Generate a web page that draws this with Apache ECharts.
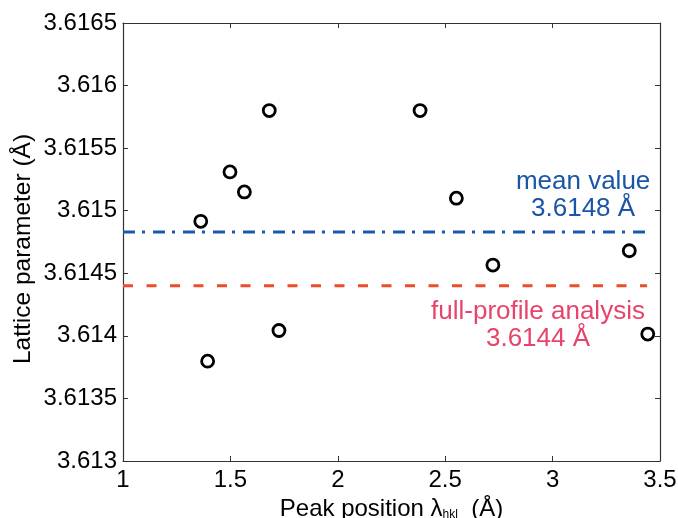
<!DOCTYPE html>
<html>
<head>
<meta charset="utf-8">
<script src="https://cdn.jsdelivr.net/npm/echarts@6/dist/echarts.min.js"></script>
<style>html,body{margin:0;padding:0;background:#fff}#c{width:678px;height:518px}</style>
</head>
<body>
<div id="c"></div>
<script>
const peakPos = [1.362, 1.394, 1.498, 1.565, 1.681, 1.726, 2.383, 2.552, 2.722, 3.357, 3.443];
const latticeParam = [3.614915, 3.613798, 3.61531, 3.61515, 3.6158, 3.614043, 3.6158, 3.6151, 3.614566, 3.61468, 3.614014];
const meanValue = 3.61483;
const fullProfile = 3.6144;
const refLineX = [1, 3.44];
const xTicks = [1, 1.5, 2, 2.5, 3, 3.5];
const yTicks = [3.613, 3.6135, 3.614, 3.6145, 3.615, 3.6155, 3.616, 3.6165];
const meanLabelPos = [3.142, 3.615126];
const fullLabelPos = [2.932, 3.614086];

const FONT = 'Liberation Sans, Arial, sans-serif';
const fmtY = v => v.toFixed(4).replace(/0+$/, '').replace(/\.$/, '');
const fmtX = v => String(Math.round(v * 10) / 10);

const chart = echarts.init(document.getElementById('c'), null, {renderer: 'canvas'});
const axisLine = {show: true, lineStyle: {color: '#333', width: 1.2}};
const axisTick = {show: true, inside: true, length: 5, lineStyle: {color: '#333', width: 1}};

chart.setOption({
  animation: false,
  backgroundColor: '#fff',
  grid: {left: 123, right: 18, top: 23, bottom: 57, containLabel: false, outerBoundsMode: 'none'},
  xAxis: [{
    type: 'value', min: xTicks[0], max: xTicks[xTicks.length - 1], interval: 0.5,
    position: 'bottom',
    axisLine, axisTick, splitLine: {show: false},
    axisLabel: {color: '#000', fontSize: 24, fontFamily: FONT, margin: 7, formatter: fmtX},
    name: '{n|Peak position λ}{s|hkl}{n|  (Å)}',
    nameLocation: 'middle', nameGap: 35,
    nameTextStyle: {
      rich: {
        n: {fontSize: 24, fontFamily: FONT, color: '#000'},
        s: {fontSize: 12, fontFamily: FONT, color: '#000', verticalAlign: 'bottom', padding: [12, 0, 0, 0]}
      }
    }
  }, {
    type: 'value', min: xTicks[0], max: xTicks[xTicks.length - 1], interval: 0.5,
    position: 'top',
    axisLine, axisTick, axisLabel: {show: false}, splitLine: {show: false}
  }],
  yAxis: [{
    type: 'value', min: yTicks[0], max: yTicks[yTicks.length - 1], interval: 0.0005,
    position: 'left',
    axisLine, axisTick, splitLine: {show: false},
    axisLabel: {color: '#000', fontSize: 24, fontFamily: FONT, margin: 6, formatter: fmtY},
    name: 'Lattice parameter (Å)',
    nameLocation: 'middle', nameGap: 87, nameMoveOverlap: false,
    nameTextStyle: {fontSize: 24.5, fontFamily: FONT, color: '#000', padding: [0, 14, 0, 0]}
  }, {
    type: 'value', min: yTicks[0], max: yTicks[yTicks.length - 1], interval: 0.0005,
    position: 'right',
    axisLine, axisTick, axisLabel: {show: false}, splitLine: {show: false}
  }],
  series: [
    {
      type: 'line', symbol: 'none', silent: true,
      data: refLineX.map(x => [x, meanValue]),
      lineStyle: {color: '#1c58ad', width: 3, type: [12, 7, 3, 8]}
    },
    {
      type: 'line', symbol: 'none', silent: true,
      data: refLineX.map(x => [x, fullProfile]),
      lineStyle: {color: '#ee4b2b', width: 3, type: [10, 13.5]}
    },
    {
      type: 'scatter', symbol: 'circle', symbolSize: 12,
      data: peakPos.map((x, i) => [x, latticeParam[i]]),
      itemStyle: {color: 'rgba(255,255,255,0)', borderColor: '#000', borderWidth: 2.8, opacity: 1}
    },
    {
      type: 'scatter', symbolSize: 0, silent: true,
      data: [meanLabelPos],
      itemStyle: {opacity: 1},
      label: {show: true, position: 'inside', formatter: 'mean value\n3.6148 Å', align: 'center', verticalAlign: 'middle',
        color: '#1a55a6', fontSize: 26, lineHeight: 27, fontFamily: FONT}
    },
    {
      type: 'scatter', symbolSize: 0, silent: true,
      data: [fullLabelPos],
      itemStyle: {opacity: 1},
      label: {show: true, position: 'inside', formatter: 'full-profile analysis\n3.6144 Å', align: 'center', verticalAlign: 'middle',
        color: '#e8436b', fontSize: 26, lineHeight: 27, fontFamily: FONT}
    }
  ]
});
</script>
</body>
</html>
